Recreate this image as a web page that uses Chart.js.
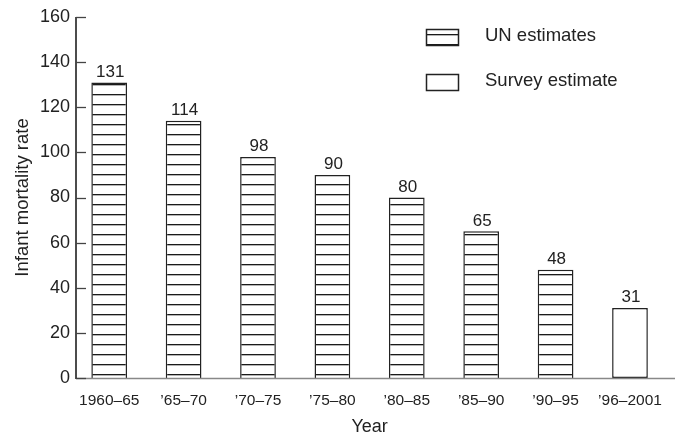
<!DOCTYPE html>
<html>
<head>
<meta charset="utf-8">
<script src="https://cdn.jsdelivr.net/npm/chart.js@4/dist/chart.umd.min.js"></script>
<style>
  html,body{margin:0;padding:0;background:#fff;}
  #wrap{width:675px;height:436px;position:relative;}
</style>
</head>
<body>
<div id="wrap"><canvas id="c"></canvas></div>
<script>
// data
var years=['1960\u201365','\u201965\u201370','\u201970\u201375','\u201975\u201380','\u201980\u201385','\u201985\u201390','\u201990\u201395','\u201996\u20132001'];
var unEstimates=[131,114,98,90,80,65,48,null];
var surveyEstimate=[null,null,null,null,null,null,null,31];
var yTicks=[0,20,40,60,80,100,120,140,160];

var FONT="'Liberation Sans', Arial, sans-serif";
var INK='#222';
var AXIS_X=76; // where the printed y axis sits

// horizontal hatching like the printed bars
function stripes(){
  var p=document.createElement('canvas');
  p.width=8;p.height=10;
  var g=p.getContext('2d');
  g.fillStyle='#fff';g.fillRect(0,0,8,10);
  g.fillStyle='#1a1a1a';g.fillRect(0,4,8,1.3);
  g.fillStyle='#b0b0b0';g.fillRect(0,5.3,8,0.7);
  return g.createPattern(p,'repeat');
}

var ctx=document.getElementById('c').getContext('2d');
var hatch=stripes();

// axis lines, inward y ticks, value labels, legend
var extras={
  id:'extras',
  afterDraw:function(chart){
    var c=chart.ctx, y=chart.scales.y;
    var y0=Math.round(y.getPixelForValue(0))+0.5;
    var yTop=Math.round(y.getPixelForValue(160));
    c.save();
    c.strokeStyle='#888';c.lineWidth=1.5;
    c.beginPath();c.moveTo(AXIS_X,y0);c.lineTo(chart.width,y0);c.stroke();
    c.strokeStyle='#111';
    c.beginPath();c.moveTo(AXIS_X,yTop);c.lineTo(AXIS_X,y0+0.5);c.stroke();

    c.strokeStyle='#444';c.lineWidth=1.3;
    yTicks.forEach(function(v){
      var py=Math.round(y.getPixelForValue(v))+0.5;
      c.beginPath();c.moveTo(AXIS_X,py);c.lineTo(AXIS_X+10,py);c.stroke();
    });

    c.fillStyle=INK;c.font='17px '+FONT;c.textAlign='center';c.textBaseline='bottom';
    chart.data.datasets.forEach(function(ds,di){
      chart.getDatasetMeta(di).data.forEach(function(bar,i){
        if(ds.data[i]==null)return;
        c.fillText(String(ds.data[i]),bar.x+1,bar.y-2);
      });
    });

    // legend
    var items=[{label:chart.data.datasets[0].label,fill:hatch,y:29},
               {label:chart.data.datasets[1].label,fill:'#fff',y:74}];
    items.forEach(function(it){
      c.fillStyle=it.fill;c.fillRect(426,it.y,33,17);
      c.strokeStyle=INK;c.lineWidth=1.5;c.strokeRect(426.5,it.y+0.5,32,16);
      c.fillStyle=INK;c.font='18.5px '+FONT;c.textAlign='left';c.textBaseline='middle';
      c.fillText(it.label,485,it.y+7);
    });
    c.restore();
  }
};

new Chart(ctx,{
  type:'bar',
  data:{labels:years,datasets:[
    {label:'UN estimates',data:unEstimates,backgroundColor:hatch,borderColor:INK,borderWidth:1.5,borderSkipped:'bottom'},
    {label:'Survey estimate',data:surveyEstimate,backgroundColor:'#fff',borderColor:INK,borderWidth:1.5,borderSkipped:false}
  ]},
  options:{
    responsive:true,maintainAspectRatio:false,animation:false,
    layout:{padding:{top:17,right:2,left:0,bottom:0}},
    datasets:{bar:{barPercentage:0.48,categoryPercentage:1,grouped:false}},
    plugins:{legend:{display:false},tooltip:{enabled:false}},
    scales:{
      x:{
        grid:{display:false,drawTicks:false},
        border:{display:false},
        ticks:{color:INK,font:{family:FONT,size:15.5},padding:13,maxRotation:0,autoSkip:false},
        title:{display:true,text:'Year',color:INK,font:{family:FONT,size:18},padding:{top:0,bottom:-2}},
        afterFit:function(s){s.height=58;}
      },
      y:{
        min:0,max:160,
        afterBuildTicks:function(s){s.ticks=yTicks.map(function(v){return {value:v};});},
        grid:{display:false,drawTicks:false},
        border:{display:false},
        ticks:{color:INK,font:{family:FONT,size:18},padding:2},
        title:{display:true,text:'Infant mortality rate',color:INK,font:{family:FONT,size:18.5},padding:{top:12,bottom:0}},
        afterFit:function(s){s.width=72;}
      }
    }
  },
  plugins:[extras]
});
</script>
</body>
</html>
